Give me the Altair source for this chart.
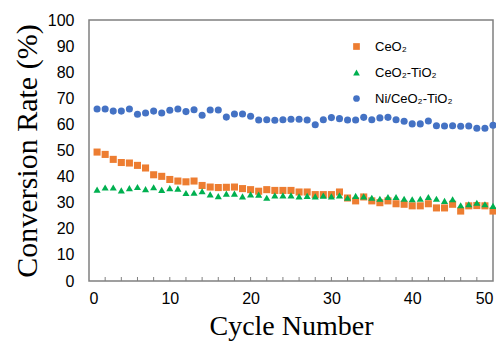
import altair as alt
import pandas as pd

cycles = list(range(1, 51))

ceo2 = [49.4, 48.5, 46.6, 45.4, 45.2, 44.3, 43.3, 40.7, 40.1, 38.9,
        38.3, 38.0, 38.3, 36.6, 36.0, 35.8, 35.9, 36.0, 35.4, 35.0,
        34.4, 35.0, 34.7, 34.7, 34.7, 34.1, 34.1, 33.1, 33.1, 33.1,
        34.1, 31.8, 30.7, 32.2, 30.7, 30.0, 30.7, 29.6, 29.4, 28.8,
        28.8, 29.6, 28.0, 28.0, 29.4, 26.8, 28.8, 28.9, 28.8, 26.8]

ceo2_tio2 = [35.0, 35.8, 35.8, 34.7, 35.6, 36.0, 35.2, 35.9, 34.9, 35.6,
             35.4, 33.7, 33.8, 34.4, 33.2, 32.5, 33.5, 33.5, 32.4, 33.2,
             33.1, 31.9, 32.8, 32.8, 32.8, 32.4, 32.6, 32.4, 32.7, 32.4,
             32.8, 31.9, 32.6, 32.4, 31.9, 31.5, 32.2, 32.2, 31.5, 31.3,
             31.5, 32.2, 31.5, 30.7, 31.3, 29.0, 29.4, 30.0, 29.4, 28.8]

ni_ceo2_tio2 = [65.9, 65.9, 65.1, 65.1, 65.9, 63.9, 64.4, 65.1, 64.4, 65.4,
                65.9, 64.9, 65.6, 63.5, 65.5, 65.5, 62.8, 64.0, 64.0, 63.1,
                61.7, 61.8, 61.6, 61.8, 62.0, 62.0, 61.7, 59.9, 61.8, 62.6,
                62.2, 61.7, 61.7, 62.7, 61.8, 62.5, 62.7, 61.8, 61.2, 60.2,
                60.2, 61.3, 59.5, 59.4, 59.5, 59.3, 59.4, 58.5, 58.5, 59.7]

series_names = ["CeO₂", "CeO₂-TiO₂", "Ni/CeO₂-TiO₂"]
series_colors = ["#ED7D31", "#00B050", "#4472C4"]
series_shapes = ["square", "triangle-up", "circle"]

x_tick_labels = [0, 10, 20, 30, 40, 50]
x_minor_ticks = list(range(2, 50, 2))
y_tick_labels = list(range(0, 101, 10))

PLOT_W = 404
PLOT_H = 261
FRAME = "#808080"

rows = []
for name, vals in zip(series_names, [ceo2, ceo2_tio2, ni_ceo2_tio2]):
    for c, v in zip(cycles, vals):
        rows.append({"cycle": c, "rate": v, "series": name})
df = pd.DataFrame(rows)

xs = alt.Scale(domain=[0, 50], nice=False)
ys = alt.Scale(domain=[0, 100], nice=False)

legend = alt.Legend(title=None, orient="none", legendX=261, legendY=20,
                    labelFont="Liberation Sans", labelFontSize=13, labelColor="#000",
                    symbolSize=45, rowPadding=12, labelOffset=12, padding=0)

points = alt.Chart(df).mark_point(filled=True, size=50, opacity=1).encode(
    x=alt.X("cycle:Q", scale=xs, axis=alt.Axis(
        values=x_tick_labels, title="Cycle Number", grid=False, domain=False, ticks=False,
        labelOverlap=False,
        labelFont="Liberation Sans", labelFontSize=16, labelColor="#000", labelPadding=9,
        titleFont="Liberation Serif", titleFontSize=28, titleFontWeight="normal", titleColor="#000",
        titleX=PLOT_W / 2, titleY=53, titleBaseline="alphabetic", titleAlign="center")),
    y=alt.Y("rate:Q", scale=ys, axis=alt.Axis(
        values=y_tick_labels, title="Conversion Rate (%)", grid=False, domain=False, ticks=False,
        labelOverlap=False,
        labelFont="Liberation Sans", labelFontSize=16, labelColor="#000", labelPadding=15,
        titleFont="Liberation Serif", titleFontSize=30, titleFontWeight="normal", titleColor="#000",
        titleX=-62, titleY=PLOT_H / 2, titleAngle=270, titleBaseline="middle", titleAlign="center")),
    color=alt.Color("series:N", scale=alt.Scale(domain=series_names, range=series_colors), legend=legend),
    shape=alt.Shape("series:N", scale=alt.Scale(domain=series_names, range=series_shapes), legend=legend),
)

ticks_df = pd.DataFrame({"x": x_minor_ticks})
ticks = alt.Chart(ticks_df).mark_rule(color=FRAME, strokeWidth=1).encode(
    x=alt.X("x:Q", scale=xs),
    y=alt.value(PLOT_H),
    y2=alt.value(PLOT_H - 4),
)

chart = alt.layer(ticks, points).properties(
    width=PLOT_W, height=PLOT_H,
    autosize=alt.AutoSizeParams(type="none"),
    padding={"left": 81, "top": 12, "right": 3, "bottom": 60},
).configure_view(stroke=FRAME, strokeWidth=1.5)

chart.save("out.html", embed_options={"renderer": "svg", "actions": False})
